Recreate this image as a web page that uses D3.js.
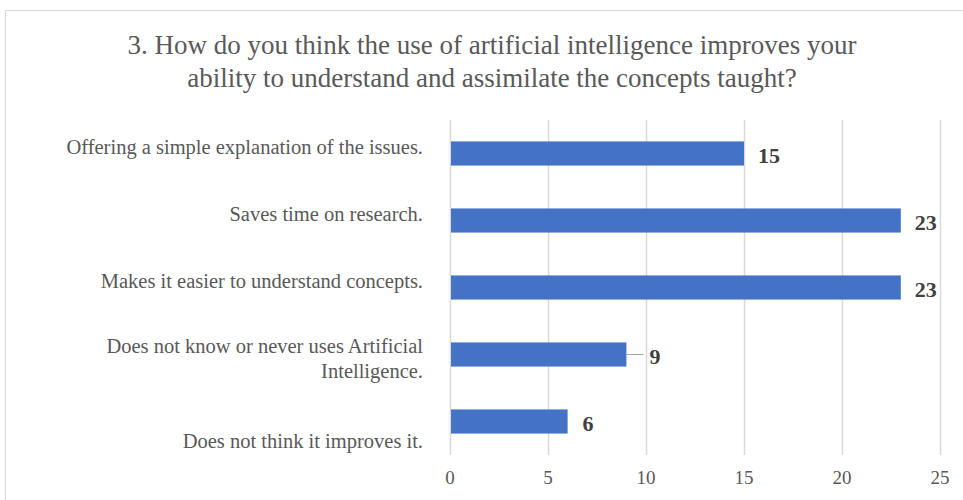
<!DOCTYPE html>
<html>
<head>
<meta charset="utf-8">
<script src="https://cdn.jsdelivr.net/npm/d3@7"></script>
<style>
  body { margin: 0; background: #fff; }
  svg { display: block; }
  text { font-family: "Liberation Serif", "Times New Roman", serif; }
</style>
</head>
<body>
<svg id="chart" width="963" height="500"></svg>
<script>
// chart data
var titleLines = ["3. How do you think the use of artificial intelligence improves your",
                  "ability to understand and assimilate the concepts taught?"];
var categories = ["Offering a simple explanation of the issues.",
                  "Saves time on research.",
                  "Makes it easier to understand concepts.",
                  "Does not know or never uses Artificial Intelligence.",
                  "Does not think it improves it."];
var values = [15, 23, 23, 9, 6];
var xTicks = [0, 5, 10, 15, 20, 25];

var svg = d3.select("#chart");

// outer chart border (cut off at right/bottom like the screenshot)
svg.append("rect")
    .attr("x", 5.5).attr("y", 10.5)
    .attr("width", 1000).attr("height", 600)
    .attr("fill", "none").attr("stroke", "#d9d9d9");

var plot = { left: 450, right: 940, top: 120, bottom: 455 };

var x = d3.scaleLinear().domain([0, 25]).range([plot.left, plot.right]);
var y = d3.scaleBand().domain(categories).range([plot.top, plot.bottom]).paddingInner(0.64).paddingOuter(0.32);

// title
svg.append("g").selectAll("text").data(titleLines).enter()
    .append("text")
    .attr("x", 492)
    .attr("y", function(d, i) { return 54 + i * 33; })
    .attr("text-anchor", "middle")
    .attr("font-size", 27)
    .attr("fill", "#595959")
    .text(function(d) { return d; });

// vertical gridlines
svg.append("g").selectAll("line").data(xTicks).enter()
    .append("line")
    .attr("x1", function(d) { return x(d) + 0.5; })
    .attr("x2", function(d) { return x(d) + 0.5; })
    .attr("y1", plot.top).attr("y2", plot.bottom)
    .attr("stroke", "#d9d9d9").attr("stroke-width", 1.5);

// x tick labels
svg.append("g").selectAll("text").data(xTicks).enter()
    .append("text")
    .attr("x", function(d) { return x(d); })
    .attr("y", 484)
    .attr("text-anchor", "middle")
    .attr("font-size", 19)
    .attr("fill", "#595959")
    .text(function(d) { return d; });

// bars
svg.append("g").selectAll("rect").data(values).enter()
    .append("rect")
    .attr("x", x(0) + 1)
    .attr("y", function(d, i) { return y(categories[i]); })
    .attr("width", function(d) { return x(d) - x(0) - 1; })
    .attr("height", y.bandwidth())
    .attr("fill", "#4472c4");

// category labels (excel places them a bit off the bar centre)
var labelShift = [-7, -7, -7, 4, 19];
var labelSize = 20.5;
var lineH = 25;

function wrapWords(text, maxW) {
    var tmp = svg.append("text").attr("font-size", labelSize);
    var words = text.split(" "), lines = [], cur = "";
    words.forEach(function(w) {
        var test = cur ? cur + " " + w : w;
        tmp.text(test);
        if (tmp.node().getComputedTextLength() > maxW && cur) {
            lines.push(cur);
            cur = w;
        } else {
            cur = test;
        }
    });
    lines.push(cur);
    tmp.remove();
    return lines;
}

categories.forEach(function(c, i) {
    var lines = wrapWords(c, 365);
    var cy = y(c) + y.bandwidth() / 2 + labelShift[i];
    var t = svg.append("text")
        .attr("font-size", labelSize)
        .attr("fill", "#595959")
        .attr("text-anchor", "end");
    lines.forEach(function(l, j) {
        t.append("tspan")
            .attr("x", 423)
            .attr("y", cy + (j - (lines.length - 1) / 2) * lineH)
            .attr("dy", "0.35em")
            .text(l);
    });
});

// value labels; the 9 one has a leader line
var labelGap = [14, 14, 14, 23, 15];
values.forEach(function(v, i) {
    var cy = y(categories[i]) + y.bandwidth() / 2;
    if (labelGap[i] > 15) {
        svg.append("line")
            .attr("x1", x(v)).attr("x2", x(v) + labelGap[i] - 6)
            .attr("y1", cy).attr("y2", cy)
            .attr("stroke", "#a6a6a6").attr("stroke-width", 1);
    }
    svg.append("text")
        .attr("x", x(v) + labelGap[i])
        .attr("y", cy + 2)
        .attr("dy", "0.35em")
        .attr("font-size", 22)
        .attr("font-weight", "bold")
        .attr("fill", "#404040")
        .text(v);
});
</script>
</body>
</html>
